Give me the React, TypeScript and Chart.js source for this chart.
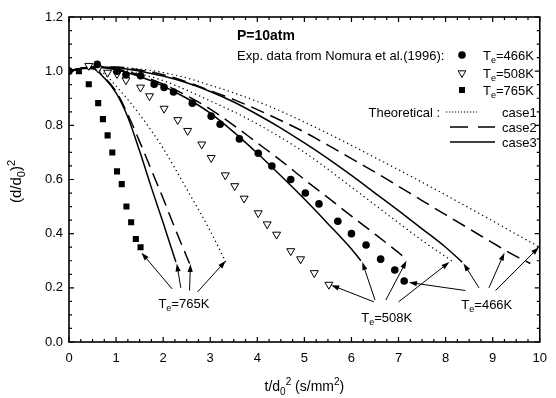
import React, { useEffect, useRef } from "react";
import { Chart, registerables } from "chart.js";

Chart.register(...registerables);

const FONT = '"Liberation Sans", Arial, Helvetica, sans-serif';

// ---- axis ticks ----
const xTickValues = [0, 1, 2, 3, 4, 5, 6, 7, 8, 9, 10];
const yTickValues = [0, 0.2, 0.4, 0.6, 0.8, 1.0, 1.2];

// ---- experimental data (Nomura et al. 1996) ----
const exp466X = [0, 0.6, 1.02, 1.21, 1.52, 1.81, 2.02, 2.22, 2.62, 3.02, 3.21, 3.62, 4.02, 4.31, 4.71, 5.02, 5.31, 5.71, 6.0, 6.31, 6.62, 6.92, 7.12];
const exp466Y = [1.0, 1.025, 1.0, 0.987, 0.983, 0.952, 0.94, 0.923, 0.882, 0.834, 0.804, 0.75, 0.697, 0.65, 0.6, 0.55, 0.51, 0.446, 0.4, 0.358, 0.306, 0.266, 0.225];

const exp508X = [0.42, 0.62, 0.82, 1.02, 1.21, 1.52, 1.71, 2.02, 2.31, 2.52, 2.82, 3.02, 3.32, 3.52, 3.72, 4.02, 4.21, 4.41, 4.71, 4.92, 5.21, 5.52];
const exp508Y = [1.02, 1.01, 0.995, 0.99, 0.967, 0.94, 0.908, 0.862, 0.82, 0.78, 0.73, 0.68, 0.616, 0.576, 0.53, 0.476, 0.435, 0.397, 0.336, 0.306, 0.255, 0.212];

const exp765X = [0.21, 0.42, 0.62, 0.72, 0.82, 0.92, 1.02, 1.12, 1.22, 1.32, 1.42, 1.52];
const exp765Y = [1.0, 0.952, 0.882, 0.823, 0.763, 0.7, 0.63, 0.583, 0.5, 0.442, 0.38, 0.35];

// ---- theoretical curves ----
const th466c1X = [0, 0.5, 1, 1.5, 2, 2.5, 3, 3.5, 4, 4.5, 5, 5.5, 6, 6.5, 7, 7.5, 8, 8.5, 9, 9.5, 10];
const th466c1Y = [1.0, 1.015, 1.015, 1.008, 0.995, 0.975, 0.948, 0.92, 0.888, 0.852, 0.812, 0.77, 0.726, 0.681, 0.636, 0.59, 0.543, 0.495, 0.447, 0.398, 0.35];
const th466c2X = [0, 0.5, 1, 1.5, 2, 2.5, 3, 3.5, 4, 4.5, 5, 5.5, 6, 6.5, 7, 7.5, 8, 8.5, 9, 9.5, 9.8];
const th466c2Y = [1.0, 1.015, 1.015, 1.004, 0.987, 0.96, 0.928, 0.895, 0.858, 0.818, 0.775, 0.727, 0.677, 0.627, 0.575, 0.522, 0.47, 0.418, 0.366, 0.316, 0.29];
const th466c3X = [0, 0.5, 1, 1.5, 2, 2.5, 3, 3.5, 4, 4.5, 5, 5.5, 6, 6.5, 7, 7.5, 8, 8.35];
const th466c3Y = [1.0, 1.015, 1.013, 1.0, 0.982, 0.957, 0.925, 0.886, 0.84, 0.79, 0.735, 0.677, 0.615, 0.55, 0.485, 0.418, 0.35, 0.295];

const th508c1X = [0, 0.5, 1, 1.5, 2, 2.5, 3, 3.5, 4, 4.5, 5, 5.5, 6, 6.5, 7, 7.5, 8, 8.15];
const th508c1Y = [1.0, 1.015, 1.008, 0.99, 0.965, 0.93, 0.89, 0.85, 0.805, 0.755, 0.7, 0.638, 0.572, 0.506, 0.44, 0.375, 0.315, 0.297];
const th508c2X = [0, 0.5, 1, 1.5, 2, 2.5, 3, 3.5, 4, 4.5, 5, 5.5, 6, 6.5, 7, 7.17];
const th508c2Y = [1.0, 1.015, 1.008, 0.985, 0.952, 0.91, 0.86, 0.8, 0.735, 0.67, 0.6, 0.533, 0.465, 0.398, 0.33, 0.305];
const th508c3X = [0, 0.5, 1, 1.5, 2, 2.5, 3, 3.5, 4, 4.5, 5, 5.5, 6, 6.2];
const th508c3Y = [1.0, 1.015, 1.005, 0.98, 0.945, 0.9, 0.845, 0.775, 0.697, 0.614, 0.528, 0.437, 0.343, 0.3];

const th765c1X = [0, 0.25, 0.5, 0.75, 1, 1.25, 1.5, 1.75, 2, 2.5, 3, 3.33];
const th765c1Y = [1.0, 1.01, 1.012, 0.99, 0.945, 0.895, 0.84, 0.78, 0.715, 0.565, 0.41, 0.295];
const th765c2X = [0, 0.25, 0.5, 0.75, 1, 1.25, 1.5, 1.75, 2, 2.25, 2.56];
const th765c2Y = [1.0, 1.01, 1.01, 0.977, 0.925, 0.84, 0.74, 0.635, 0.53, 0.42, 0.29];
const th765c3X = [0, 0.25, 0.5, 0.75, 1, 1.25, 1.5, 1.75, 2, 2.27];
const th765c3Y = [1.0, 1.01, 1.01, 0.975, 0.92, 0.83, 0.705, 0.57, 0.44, 0.295];

// ---- annotation labels and arrows (data coordinates) ----
const labelTemps = ["765K", "508K", "466K"];
const labelX = [2.44, 6.75, 8.875];
const labelY = [0.144, 0.092, 0.14];
// each arrow: [fromX, fromY, toX, toY]
const arrows765 = [[2.19, 0.196, 1.54, 0.33], [2.375, 0.2, 2.29, 0.29], [2.56, 0.19, 2.58, 0.288], [2.73, 0.185, 3.33, 0.3]];
const arrows508 = [[6.48, 0.148, 5.57, 0.21], [6.5, 0.155, 6.23, 0.295], [6.73, 0.155, 7.17, 0.3], [7.0, 0.148, 8.08, 0.295]];
const arrows466 = [[8.42, 0.19, 7.22, 0.22], [8.71, 0.2, 8.38, 0.29], [8.92, 0.2, 9.25, 0.33], [9.06, 0.19, 9.98, 0.35]];

const legendTemps = ["466K", "508K", "765K"];
const legendCases = ["case1", "case2", "case3"];

const zip = (xs: number[], ys: number[]) => xs.map((x, i) => ({ x, y: ys[i] }));

type Part = { t: string; sub?: boolean; sup?: boolean };

function drawRich(ctx: CanvasRenderingContext2D, parts: Part[], x: number, y: number, size: number, align: "left" | "center" | "right" = "left", bold = false) {
  const w = bold ? "bold " : "";
  const small = Math.round(size * 0.7);
  const widths = parts.map((p) => {
    ctx.font = `${w}${p.sub || p.sup ? small : size}px ${FONT}`;
    return ctx.measureText(p.t).width;
  });
  const total = widths.reduce((a, b) => a + b, 0);
  let cx = align === "left" ? x : align === "center" ? x - total / 2 : x - total;
  ctx.textBaseline = "alphabetic";
  ctx.textAlign = "left";
  const base = y + size * 0.36;
  parts.forEach((p, i) => {
    ctx.font = `${w}${p.sub || p.sup ? small : size}px ${FONT}`;
    let yy = base;
    if (p.sub) yy = base + size * 0.25;
    if (p.sup) yy = base - size * 0.45;
    ctx.fillText(p.t, cx, yy);
    cx += widths[i];
  });
}

function tePartsFor(v: string): Part[] {
  return [{ t: "T" }, { t: "e", sub: true }, { t: "=" + v }];
}

function drawArrow(ctx: CanvasRenderingContext2D, x1: number, y1: number, x2: number, y2: number) {
  const ang = Math.atan2(y2 - y1, x2 - x1);
  const hl = 8, hw = 2.6;
  ctx.beginPath();
  ctx.moveTo(x1, y1);
  ctx.lineTo(x2 - Math.cos(ang) * hl * 0.8, y2 - Math.sin(ang) * hl * 0.8);
  ctx.lineWidth = 1;
  ctx.stroke();
  ctx.beginPath();
  ctx.moveTo(x2, y2);
  ctx.lineTo(x2 - Math.cos(ang) * hl - Math.sin(ang) * hw, y2 - Math.sin(ang) * hl + Math.cos(ang) * hw);
  ctx.lineTo(x2 - Math.cos(ang) * hl + Math.sin(ang) * hw, y2 - Math.sin(ang) * hl - Math.cos(ang) * hw);
  ctx.closePath();
  ctx.fill();
}

const decor = {
  id: "decor",
  afterDraw(chart: any) {
    const ctx: CanvasRenderingContext2D = chart.ctx;
    const { left, right, top, bottom } = chart.chartArea;
    const xs = chart.scales.x;
    const ys = chart.scales.y;
    ctx.save();
    ctx.strokeStyle = "#000";
    ctx.fillStyle = "#000";
    ctx.setLineDash([]);

    // frame
    ctx.lineWidth = 1.6;
    ctx.strokeRect(left, top, right - left, bottom - top);

    // inward ticks
    ctx.lineWidth = 1.2;
    for (let i = 0; i <= 40; i++) {
      const px = xs.getPixelForValue(i * 0.25);
      const len = i % 4 === 0 ? 5 : 3;
      ctx.beginPath();
      ctx.moveTo(px, bottom); ctx.lineTo(px, bottom - len);
      ctx.moveTo(px, top); ctx.lineTo(px, top + len);
      ctx.stroke();
    }
    for (let i = 0; i <= 24; i++) {
      const py = ys.getPixelForValue(i * 0.05);
      const len = i % 4 === 0 ? 5 : 3;
      ctx.beginPath();
      ctx.moveTo(left, py); ctx.lineTo(left + len, py);
      ctx.moveTo(right, py); ctx.lineTo(right - len, py);
      ctx.stroke();
    }

    // axis titles
    drawRich(ctx, [{ t: "t/d" }, { t: "0", sub: true }, { t: "2", sup: true }, { t: " (s/mm" }, { t: "2", sup: true }, { t: ")" }], (left + right) / 2, 386, 14, "center");
    ctx.save();
    ctx.translate(16, (top + bottom) / 2 + 2);
    ctx.rotate(-Math.PI / 2);
    drawRich(ctx, [{ t: "(d/d" }, { t: "0", sub: true }, { t: ")" }, { t: "2", sup: true }], 0, 0, 15, "center");
    ctx.restore();

    // legend
    const lx = left + 168;
    drawRich(ctx, [{ t: "P=10atm" }], lx, top + 18, 14, "left", true);
    drawRich(ctx, [{ t: "Exp. data from Nomura et al.(1996):" }], lx, top + 38, 13, "left");
    const mx = left + 393;
    const tx = left + 414;
    const rowY = [top + 38, top + 56, top + 73];
    legendTemps.forEach((t, i) => drawRich(ctx, tePartsFor(t), tx, rowY[i], 13, "left"));
    // markers
    ctx.beginPath();
    ctx.arc(mx, rowY[0], 3.8, 0, Math.PI * 2);
    ctx.fill();
    ctx.beginPath();
    ctx.lineWidth = 1;
    ctx.moveTo(mx - 3.9, rowY[1] - 2.2);
    ctx.lineTo(mx + 3.9, rowY[1] - 2.2);
    ctx.lineTo(mx, rowY[1] + 4.4);
    ctx.closePath();
    ctx.fillStyle = "#fff";
    ctx.fill();
    ctx.stroke();
    ctx.fillStyle = "#000";
    ctx.fillRect(mx - 3, rowY[2] - 3, 6, 6);

    const caseY = [top + 95, top + 110, top + 125];
    drawRich(ctx, [{ t: "Theoretical :" }], left + 371, caseY[0], 13, "right");
    legendCases.forEach((c, i) => drawRich(ctx, [{ t: c }], left + 433, caseY[i], 13, "left"));
    ctx.lineWidth = 1.1;
    ctx.setLineDash([1.2, 1.8]);
    ctx.beginPath(); ctx.moveTo(left + 377, caseY[0]); ctx.lineTo(left + 408, caseY[0]); ctx.stroke();
    ctx.setLineDash([]);
    ctx.lineWidth = 1.5;
    ctx.beginPath();
    ctx.moveTo(left + 381, caseY[1]); ctx.lineTo(left + 399, caseY[1]);
    ctx.moveTo(left + 409, caseY[1]); ctx.lineTo(left + 426, caseY[1]);
    ctx.stroke();
    ctx.beginPath(); ctx.moveTo(left + 381, caseY[2]); ctx.lineTo(left + 426, caseY[2]); ctx.stroke();

    // annotations
    const allArrows = [arrows765, arrows508, arrows466];
    allArrows.forEach((group) =>
      group.forEach((a) =>
        drawArrow(ctx, xs.getPixelForValue(a[0]), ys.getPixelForValue(a[1]), xs.getPixelForValue(a[2]), ys.getPixelForValue(a[3]))
      )
    );
    labelTemps.forEach((t, i) =>
      drawRich(ctx, tePartsFor(t), xs.getPixelForValue(labelX[i]), ys.getPixelForValue(labelY[i]), 13, "center")
    );
    ctx.restore();
  },
};

function lineDs(xs: number[], ys: number[], kind: "dot" | "dash" | "solid") {
  return {
    data: zip(xs, ys),
    showLine: true,
    pointRadius: 0,
    borderColor: "#000",
    borderWidth: kind === "dot" ? 1.2 : 1.5,
    borderDash: kind === "dot" ? [1.3, 3.2] : kind === "dash" ? [14, 7] : [],
    cubicInterpolationMode: "monotone",
    fill: false,
  };
}

export default function App() {
  const ref = useRef<HTMLCanvasElement>(null);
  useEffect(() => {
    document.body.style.margin = "0";
    const canvas = ref.current!;
    const chart = new Chart(canvas, {
      type: "scatter",
      data: {
        datasets: [
          { data: zip(exp466X, exp466Y), pointStyle: "circle", pointRadius: 3.8, backgroundColor: "#000", borderColor: "#000", borderWidth: 0, showLine: false },
          { data: zip(exp508X, exp508Y), pointStyle: "triangle", pointRotation: 180, pointRadius: 4.6, backgroundColor: "#fff", borderColor: "#000", borderWidth: 1, showLine: false },
          { data: zip(exp765X, exp765Y), pointStyle: "rect", pointRadius: 4.3, backgroundColor: "#000", borderColor: "#000", borderWidth: 0, showLine: false },
          lineDs(th466c1X, th466c1Y, "dot"),
          lineDs(th466c2X, th466c2Y, "dash"),
          lineDs(th466c3X, th466c3Y, "solid"),
          lineDs(th508c1X, th508c1Y, "dot"),
          lineDs(th508c2X, th508c2Y, "dash"),
          lineDs(th508c3X, th508c3Y, "solid"),
          lineDs(th765c1X, th765c1Y, "dot"),
          lineDs(th765c2X, th765c2Y, "dash"),
          lineDs(th765c3X, th765c3Y, "solid"),
        ] as any,
      },
      options: {
        animation: false,
        responsive: false,
        devicePixelRatio: 1,
        layout: { padding: { top: 17, right: 7, left: 0, bottom: 0 } },
        plugins: { legend: { display: false }, tooltip: { enabled: false } },
        scales: {
          x: {
            type: "linear",
            min: 0,
            max: 10,
            afterBuildTicks: (s: any) => { s.ticks = xTickValues.map((v) => ({ value: v })); },
            afterFit: (s: any) => { s.height = 56; },
            grid: { display: false, drawTicks: false },
            border: { display: false },
            ticks: { padding: 9, color: "#000", font: { family: FONT, size: 13 }, callback: (v: any) => String(v) },
          },
          y: {
            type: "linear",
            min: 0,
            max: 1.2,
            afterBuildTicks: (s: any) => { s.ticks = yTickValues.map((v) => ({ value: v })); },
            afterFit: (s: any) => { s.width = 69; },
            grid: { display: false, drawTicks: false },
            border: { display: false },
            ticks: { padding: 6, color: "#000", font: { family: FONT, size: 13 }, callback: (v: any) => Number(v).toFixed(1) },
          },
        },
      } as any,
      plugins: [decor],
    });
    return () => chart.destroy();
  }, []);
  return <canvas ref={ref} width={556} height={398} style={{ display: "block" }} />;
}
